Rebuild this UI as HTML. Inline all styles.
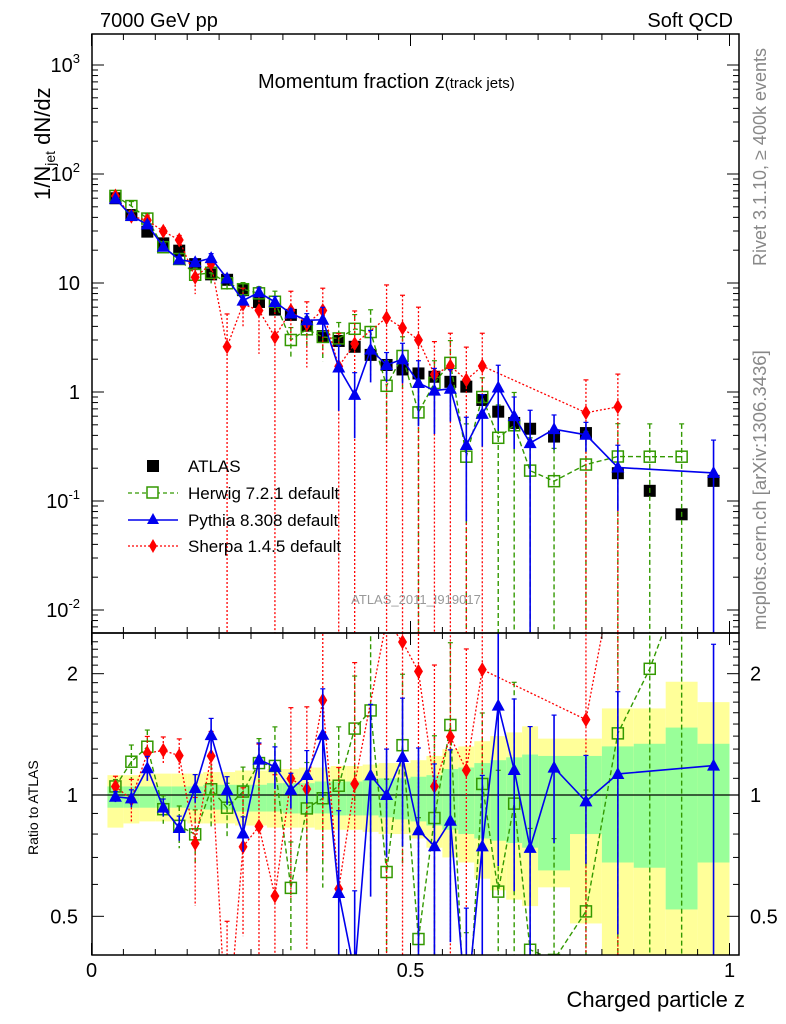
<!DOCTYPE html>
<html><head><meta charset="utf-8"><style>
html,body{margin:0;background:#fff;width:786px;height:1024px;overflow:hidden;}
svg{display:block;font-family:"Liberation Sans",sans-serif;}
</style></head><body>
<svg id="chart" width="786" height="1024" viewBox="0 0 786 1024" xmlns="http://www.w3.org/2000/svg">
<defs>
<clipPath id="cm"><rect x="92" y="34" width="647" height="599"/></clipPath>
<clipPath id="cr"><rect x="92" y="633" width="647" height="322"/></clipPath>
</defs>
<g id="bands" clip-path="url(#cr)"></g>
<g id="marks"></g>
<g id="axes"></g>
<text x="100" y="27" font-size="20">7000 GeV pp</text>
<text x="733" y="27" font-size="20" text-anchor="end">Soft QCD</text>
<text x="258" y="88" font-size="20">Momentum fraction z<tspan font-size="15">(track jets)</tspan></text>
<text transform="translate(50,200) rotate(-90)" font-size="22">1/N<tspan font-size="14" dy="5">jet</tspan><tspan dy="-5"> dN/dz</tspan></text>
<text transform="translate(38,855) rotate(-90)" font-size="14">Ratio to ATLAS</text>
<text x="745" y="1007" font-size="22" text-anchor="end">Charged particle z</text>
<text transform="translate(766,266) rotate(-90)" font-size="18" fill="#888">Rivet 3.1.10, ≥ 400k events</text>
<text transform="translate(766,630) rotate(-90)" font-size="18.5" fill="#888">mcplots.cern.ch [arXiv:1306.3436]</text>
<text x="416" y="604" font-size="13" fill="#999" text-anchor="middle">ATLAS_2011_I919017</text>
<g>
<rect x="147" y="460" width="12" height="12" fill="#000"/>
<text x="188" y="472" font-size="17">ATLAS</text>
<line x1="128" y1="493" x2="178" y2="493" stroke="#339900" stroke-width="1.3" stroke-dasharray="4,3"/>
<rect x="147" y="487" width="11" height="11" fill="#fff" stroke="#339900" stroke-width="1.5"/>
<text x="188" y="499" font-size="17">Herwig 7.2.1 default</text>
<line x1="128" y1="520" x2="178" y2="520" stroke="#0000ee" stroke-width="1.5"/>
<polygon points="153,513 159,524 147,524" fill="#0000ee"/>
<text x="188" y="526" font-size="17">Pythia 8.308 default</text>
<line x1="128" y1="546" x2="178" y2="546" stroke="#ff0000" stroke-width="1.3" stroke-dasharray="2,2"/>
<polygon points="153,539 157,546 153,553 149,546" fill="#ff0000"/>
<text x="188" y="552" font-size="17">Sherpa 1.4.5 default</text>
</g>
</svg>
<script>
const zBins = [0.0375,0.0625,0.0875,0.1125,0.1375,0.1625,0.1875,0.2125,0.2375,0.2625,0.2875,0.3125,0.3375,0.3625,0.3875,0.4125,0.4375,0.4625,0.4875,0.5125,0.5375,0.5625,0.5875,0.6125,0.6375,0.6625,0.6875,0.725,0.775,0.825,0.875,0.925,0.975];
const halfW = [0.0125,0.0125,0.0125,0.0125,0.0125,0.0125,0.0125,0.0125,0.0125,0.0125,0.0125,0.0125,0.0125,0.0125,0.0125,0.0125,0.0125,0.0125,0.0125,0.0125,0.0125,0.0125,0.0125,0.0125,0.0125,0.0125,0.0125,0.025,0.025,0.025,0.025,0.025,0.025];
const atlas = [59.9,42,29.6,23.1,19.8,14.9,12.0,10.7,8.6,6.7,5.7,5.1,4.06,3.26,2.94,2.6,2.19,1.77,1.61,1.48,1.38,1.24,1.12,0.845,0.66,0.52,0.46,0.39,0.42,0.18,0.124,0.0755,0.153];
const herwig = [62.9,50.8,39,21.3,16.6,11.9,12.4,9.95,8.77,8.04,6.73,3.0,3.76,3.2,3.1,3.8,3.55,1.14,2.14,0.65,1.21,1.85,0.255,0.90,0.38,0.495,0.19,0.152,0.216,0.256,0.255,0.255,null];
const pythia = [59.3,41.2,34.5,21.5,16.4,15.5,16.9,11.0,6.9,8.2,6.7,5.25,4.55,4.6,1.68,0.94,2.45,1.77,2.0,1.21,1.03,1.07,0.326,0.63,1.1,0.6,0.34,0.456,0.405,0.203,null,null,0.181];
const sherpa = [62.9,41,37.6,29.8,24.8,11.3,15.0,2.6,6.4,5.6,3.2,5.6,4.2,5.6,1.72,2.77,null,4.8,3.86,3.0,1.45,1.73,1.29,1.73,null,null,null,null,0.646,0.73,null,null,null];
const herwigErr = [0.04,0.1,0.1,0.08,0.12,0.15,0.2,0.15,0.15,0.15,0.25,0.3,0.3,0.4,0.4,0.35,0.6,0.7,0.5,1,0.6,0.6,1,0.5,1,1,1,1,1,1,1,1,0];
const pythiaErr = [0.03,0.05,0.07,0.05,0.07,0.08,0.1,0.08,0.1,0.1,0.12,0.1,0.15,0.3,0.6,0.6,0.5,0.3,0.4,0.6,0.6,0.5,0.8,0.5,0.6,0.5,1,0.35,0.3,0.6,0,0,1];
const sherpaErr = [0.06,0.12,0.1,0.08,0.1,0.3,0.15,1,0.4,0.6,1,0.5,0.6,0.6,1,1,0,1,1,1,1,1,1,1,0,0,0,0,1,1,0,0,0];
const greenUp = [1.05,1.05,1.05,1.05,1.05,1.05,1.06,1.06,1.06,1.06,1.07,1.07,1.07,1.08,1.08,1.08,1.09,1.10,1.10,1.11,1.12,1.16,1.17,1.20,1.22,1.24,1.26,1.25,1.25,1.32,1.34,1.47,1.34];
const greenDn = [0.93,0.93,0.93,0.93,0.93,0.92,0.92,0.92,0.91,0.91,0.91,0.90,0.90,0.90,0.89,0.89,0.89,0.88,0.87,0.86,0.84,0.82,0.80,0.78,0.77,0.76,0.74,0.65,0.80,0.68,0.66,0.52,0.68];
const yellowUp = [1.12,1.12,1.13,1.13,1.13,1.13,1.14,1.14,1.15,1.15,1.16,1.16,1.17,1.17,1.18,1.18,1.19,1.20,1.20,1.22,1.25,1.30,1.32,1.36,1.40,1.43,1.48,1.38,1.38,1.64,1.64,1.91,1.70];
const yellowDn = [0.83,0.85,0.86,0.86,0.86,0.85,0.85,0.85,0.84,0.84,0.83,0.83,0.83,0.82,0.82,0.82,0.81,0.80,0.80,0.78,0.74,0.70,0.68,0.62,0.58,0.55,0.53,0.59,0.48,0.3,0.3,0.3,0.3];
const mainTickLabels = ["10^-2","10^-1","1","10","10^2","10^3"];
const mainTickVals = [0.01,0.1,1,10,100,1000];
const ratioTickVals = [0.5,1,2];
const xTickVals = [0,0.5,1];

const NS="http://www.w3.org/2000/svg";
const xs = z => 91.5 + z*638;
const ym = v => 392 - 109*Math.log10(v);
const yr = r => 795 - 403*Math.log10(r);
function mk(tag, attrs, parent){const e=document.createElementNS(NS,tag);for(const k in attrs)e.setAttribute(k,attrs[k]);parent.appendChild(e);return e;}
const bands=document.getElementById('bands'), marks=document.getElementById('marks'), axes=document.getElementById('axes');

zBins.forEach((z,i)=>{
  const x0=xs(z-halfW[i]), x1=xs(z+halfW[i]);
  const y=mk('rect',{x:x0,y:yr(yellowUp[i]),width:x1-x0,height:yr(yellowDn[i])-yr(yellowUp[i]),fill:'#ffff99'},bands);
  
  
  const g=mk('rect',{x:x0,y:yr(greenUp[i]),width:x1-x0,height:yr(greenDn[i])-yr(greenUp[i]),fill:'#99ff99'},bands);
  
  
});
mk('line',{x1:92,y1:795,x2:739,y2:795,stroke:'#000','stroke-width':1.2},bands);

const gm=mk('g',{'clip-path':'url(#cm)'},marks);
const gr=mk('g',{'clip-path':'url(#cr)'},marks);

function marker(type,x,y,col,parent){
  let e;
  if(type==='sq') e=mk('rect',{x:x-6,y:y-6,width:12,height:12,fill:'#000'},parent);
  else if(type==='osq') e=mk('rect',{x:x-5.5,y:y-5.5,width:11,height:11,fill:'none',stroke:col,'stroke-width':1.5},parent);
  else if(type==='tri') e=mk('polygon',{points:`${x},${y-7} ${x+6.5},${y+5} ${x-6.5},${y+5}`,fill:col},parent);
  else e=mk('polygon',{points:`${x},${y-7.5} ${x+4.5},${y} ${x},${y+7.5} ${x-4.5},${y}`,fill:col},parent);
  return e;
}
function series(name,vals,errs,col,dash,width,type){
  [[gm,(v,i)=>v,ym,633],[gr,(v,i)=>v/atlas[i],yr,955]].forEach(([par,f,ys,bot])=>{
    const pts=[];
    vals.forEach((v,i)=>{ if(v!=null) pts.push([xs(zBins[i]),ys(f(v,i)),i]); });
    pts.forEach(p=>{
      const i=p[2], e=errs[i]; if(!e) return;
      const v=f(vals[i],i);
      const up=ys(v*(1+e)), dn=e>=1?bot:Math.min(bot,ys(v*(1-e)));
      const l=mk('line',{x1:p[0],y1:up,x2:p[0],y2:dn,stroke:col,'stroke-width':width,'stroke-dasharray':dash},par);
      
      
      mk('line',{x1:p[0]-2.5,y1:up,x2:p[0]+2.5,y2:up,stroke:col,'stroke-width':1.2},par);
    });
    const pl=mk('polyline',{points:pts.map(p=>p[0]+','+p[1]).join(' '),fill:'none',stroke:col,'stroke-width':width,'stroke-dasharray':dash},par);
    
    
    pts.forEach(p=>{
      const m=marker(type,p[0],p[1],col,par);
      
      
    });
  });
}
atlas.forEach((v,i)=>{
  const m=marker('sq',xs(zBins[i]),ym(v),'#000',gm);
  
  
});
series('herwig',herwig,herwigErr,'#339900','5,3',1.4,'osq');
series('sherpa',sherpa,sherpaErr,'#ff0000','2,2',1.3,'dia');
series('pythia',pythia,pythiaErr,'#0000ee','',1.6,'tri');

const f1=mk('rect',{x:92,y:34,width:647,height:599,fill:'none',stroke:'#000','stroke-width':1.5},axes);


const f2=mk('rect',{x:92,y:633,width:647,height:322,fill:'none',stroke:'#000','stroke-width':1.5},axes);


for(let d=-3;d<=3;d++){for(let k=1;k<10;k++){const v=k*Math.pow(10,d);const y=ym(v);if(y<35||y>632)continue;const L=k===1?12:6;
  mk('line',{x1:92,y1:y,x2:92+L,y2:y,stroke:'#000','stroke-width':1},axes);
  mk('line',{x1:739,y1:y,x2:739-L,y2:y,stroke:'#000','stroke-width':1},axes);}}
mainTickVals.forEach((v,i)=>{
  const s=mainTickLabels[i], y=ym(v)+7;
  const t=mk('text',{x:80,y:y,'font-size':20,'text-anchor':'end'},axes);
  if(s.indexOf('^')>0){const [b,e]=s.split('^');t.textContent=b;const ts=mk('tspan',{dy:-9,'font-size':13},t);ts.textContent=e;}
  else t.textContent=s;
  
  
});
for(let r=0.4;r<=2.5;r+=0.1){const y=yr(r);if(y<634||y>954)continue;const maj=Math.abs(r-0.5)<1e-6||Math.abs(r-1)<1e-6||Math.abs(r-2)<1e-6;const L=maj?12:6;
  mk('line',{x1:92,y1:y,x2:92+L,y2:y,stroke:'#000'},axes);mk('line',{x1:739,y1:y,x2:739-L,y2:y,stroke:'#000'},axes);}
ratioTickVals.forEach(r=>{
  const y=yr(r)+7;
  const a=mk('text',{x:78,y:y,'font-size':20,'text-anchor':'end'},axes);a.textContent=String(r);
  
  
  const b=mk('text',{x:750,y:y,'font-size':20},axes);b.textContent=String(r);
  
  
});
for(let j=0;j<=20;j++){const z=j*0.05;const x=xs(z);const maj=j%10===0;const L=maj?12:6;
  [[955,-1],[633,-1],[633,1],[34,1]].forEach(([y0,s])=>mk('line',{x1:x,y1:y0,x2:x,y2:y0+s*L,stroke:'#000'},axes));}
xTickVals.forEach(z=>{
  const t=mk('text',{x:xs(z),y:977,'font-size':20,'text-anchor':'middle'},axes);t.textContent=String(z);
  
  
});
</script>
</body></html>
